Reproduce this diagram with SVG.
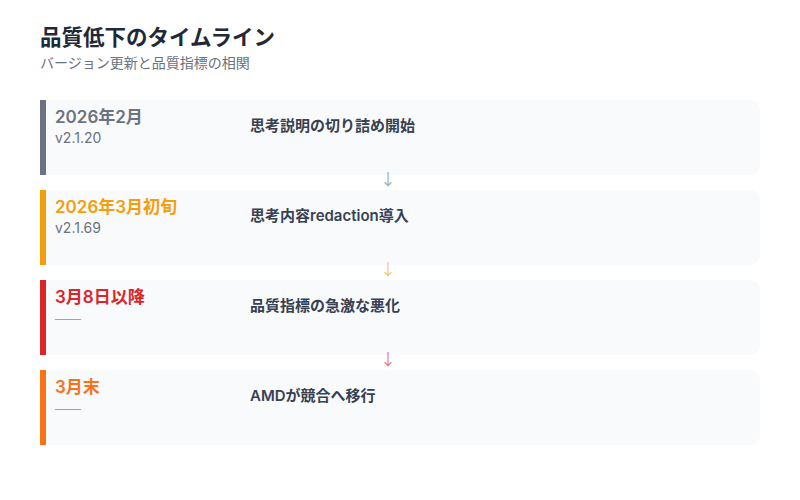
<svg xmlns="http://www.w3.org/2000/svg" width="800" height="500" viewBox="0 0 800 500">
<defs>
<style>
text{font-family:Inter,"Noto Sans CJK JP",sans-serif}
.title{font-size:21.5px;font-weight:700;fill:#1f2937}
.sub{font-size:14px;fill:#6b7280}
.card{fill:#f8fafc}
.date{font-size:17px;font-weight:600}
.ver{font-size:14px;fill:#6b7280}
.desc{font-size:15px;font-weight:600;fill:#374151}
.arrow{font-family:"Noto Sans CJK JP",sans-serif;font-size:16px;text-anchor:middle;opacity:0.6}
</style>
<path id="cardshape" d="M40 0H750A10 10 0 0 1 760 10V65A10 10 0 0 1 750 75H40Z"/>
</defs>
<rect width="800" height="500" fill="#ffffff"/>
<text class="title" x="40" y="45">品質低下のタイムライン</text>
<text class="sub" x="40" y="68">バージョン更新と品質指標の相関</text>

<g id="node1">
<use href="#cardshape" class="card" y="100"/>
<rect x="40" y="100" width="6" height="75" fill="#6b7280"/>
<text class="date" x="55" y="123" fill="#6b7280">2026年2月</text>
<text class="ver" x="55" y="143">v2.1.20</text>
<text class="desc" x="250" y="131">思考説明の切り詰め開始</text>
</g>
<g id="node2">
<use href="#cardshape" class="card" y="190"/>
<rect x="40" y="190" width="6" height="75" fill="#f59e0b"/>
<text class="date" x="55" y="213" fill="#f59e0b">2026年3月初旬</text>
<text class="ver" x="55" y="233">v2.1.69</text>
<text class="desc" x="250" y="221">思考内容redaction導入</text>
</g>
<g id="node3">
<use href="#cardshape" class="card" y="280"/>
<rect x="40" y="280" width="6" height="75" fill="#dc2626"/>
<text class="date" x="55" y="303" fill="#dc2626">3月8日以降</text>
<line x1="55" y1="319.5" x2="81" y2="319.5" stroke="#9ca3af" stroke-width="1"/>
<text class="desc" x="250" y="311">品質指標の急激な悪化</text>
</g>
<g id="node4">
<use href="#cardshape" class="card" y="370"/>
<rect x="40" y="370" width="6" height="75" fill="#f97316"/>
<text class="date" x="55" y="393" fill="#f97316">3月末</text>
<line x1="55" y1="409.5" x2="81" y2="409.5" stroke="#9ca3af" stroke-width="1"/>
<text class="desc" x="250" y="401">AMDが競合へ移行</text>
</g>
<g id="connectors">
<text class="arrow" x="388" y="185" fill="#6b7280">↓</text>
<text class="arrow" x="388" y="275" fill="#f59e0b">↓</text>
<text class="arrow" x="388" y="365" fill="#dc2626">↓</text>
</g>
</svg>
